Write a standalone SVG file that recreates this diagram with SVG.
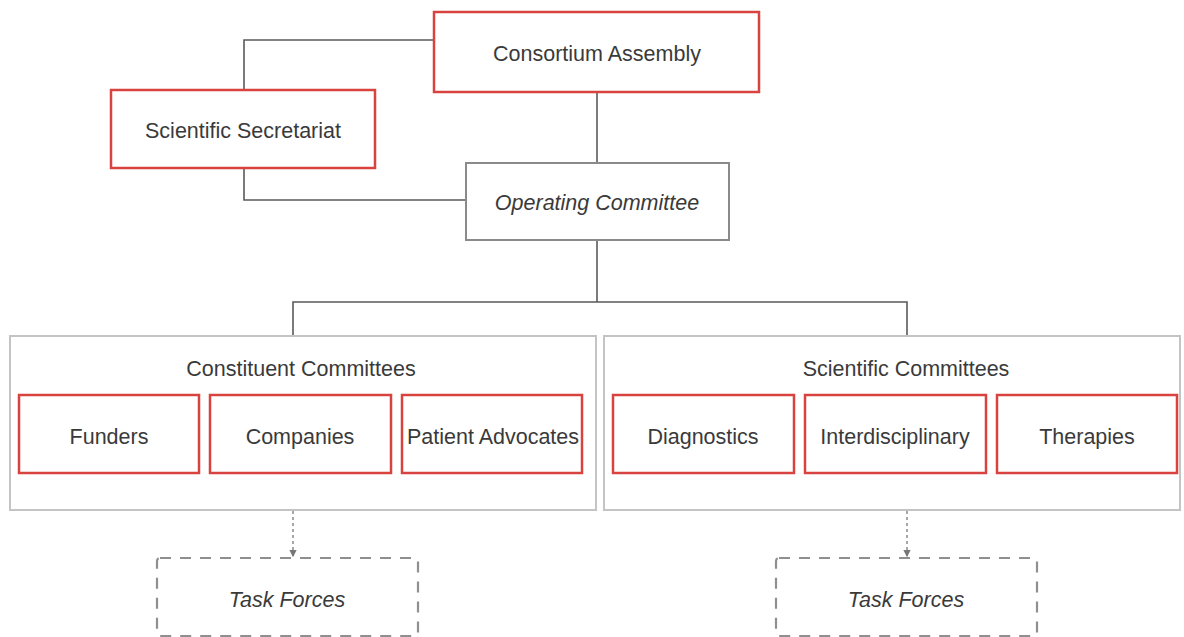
<svg xmlns="http://www.w3.org/2000/svg" width="1184" height="637" viewBox="0 0 1184 637">
<style>
.red{fill:#fff;stroke:#d8433f;stroke-width:2.5}
.gray{fill:#fff;stroke:#8a8a8a;stroke-width:2}
.cont{fill:#fff;stroke:#c4c4c4;stroke-width:2}
.dash{fill:#fff;stroke:#8f8f8f;stroke-width:2.2;stroke-dasharray:11 9}
.ln{fill:none;stroke:#5a5a5a;stroke-width:1.6}
.dl{fill:none;stroke:#8a8a8a;stroke-width:1.5;stroke-dasharray:3 3}
text{font-family:"Liberation Sans",Arial,sans-serif;font-size:21.5px;fill:#3a3a3a;text-anchor:middle;dominant-baseline:central}
.it{font-style:italic}
</style>
<defs>
<marker id="ah" viewBox="0 0 6 6" refX="5" refY="3" markerWidth="5" markerHeight="5" orient="auto">
<path d="M0,0 L6,3 L0,6 z" fill="#777"/>
</marker>
</defs>
<g id="connectors">
<polyline class="ln" points="434,40 244,40 244,90"/>
<polyline class="ln" points="244,168 244,200 466,200"/>
<line class="ln" x1="597" y1="92" x2="597" y2="163"/>
<polyline class="ln" points="597,240 597,302"/>
<polyline class="ln" points="293,336 293,302 907,302 907,336"/>
<line class="dl" x1="293" y1="511" x2="293" y2="556" marker-end="url(#ah)"/>
<line class="dl" x1="907" y1="511" x2="907" y2="556" marker-end="url(#ah)"/>
</g>
<g id="consortium-assembly"><rect class="red" x="434" y="12" width="325" height="80"/><text x="597" y="54">Consortium Assembly</text></g>
<g id="scientific-secretariat"><rect class="red" x="111" y="90" width="264" height="78"/><text x="243" y="131">Scientific Secretariat</text></g>
<g id="operating-committee"><rect class="gray" x="466" y="163" width="263" height="77"/><text class="it" x="597" y="203">Operating Committee</text></g>
<g id="constituent-committees"><rect class="cont" x="10" y="336" width="586" height="174"/><text x="301" y="369">Constituent Committees</text></g>
<g id="scientific-committees"><rect class="cont" x="604" y="336" width="576" height="174"/><text x="906" y="369">Scientific Committees</text></g>
<g id="funders"><rect class="red" x="19" y="395" width="180" height="78"/><text x="109" y="437">Funders</text></g>
<g id="companies"><rect class="red" x="210" y="395" width="181" height="78"/><text x="300" y="437">Companies</text></g>
<g id="patient-advocates"><rect class="red" x="402" y="395" width="180" height="78"/><text x="493" y="437">Patient Advocates</text></g>
<g id="diagnostics"><rect class="red" x="613" y="395" width="181" height="78"/><text x="703" y="437">Diagnostics</text></g>
<g id="interdisciplinary"><rect class="red" x="805" y="395" width="181" height="78"/><text x="895" y="437">Interdisciplinary</text></g>
<g id="therapies"><rect class="red" x="997" y="395" width="180" height="78"/><text x="1087" y="437">Therapies</text></g>
<g id="task-forces-left"><rect class="dash" x="157" y="558" width="261" height="78" rx="3"/><text class="it" x="287" y="600">Task Forces</text></g>
<g id="task-forces-right"><rect class="dash" x="776" y="558" width="261" height="78" rx="3"/><text class="it" x="906" y="600">Task Forces</text></g>
</svg>
